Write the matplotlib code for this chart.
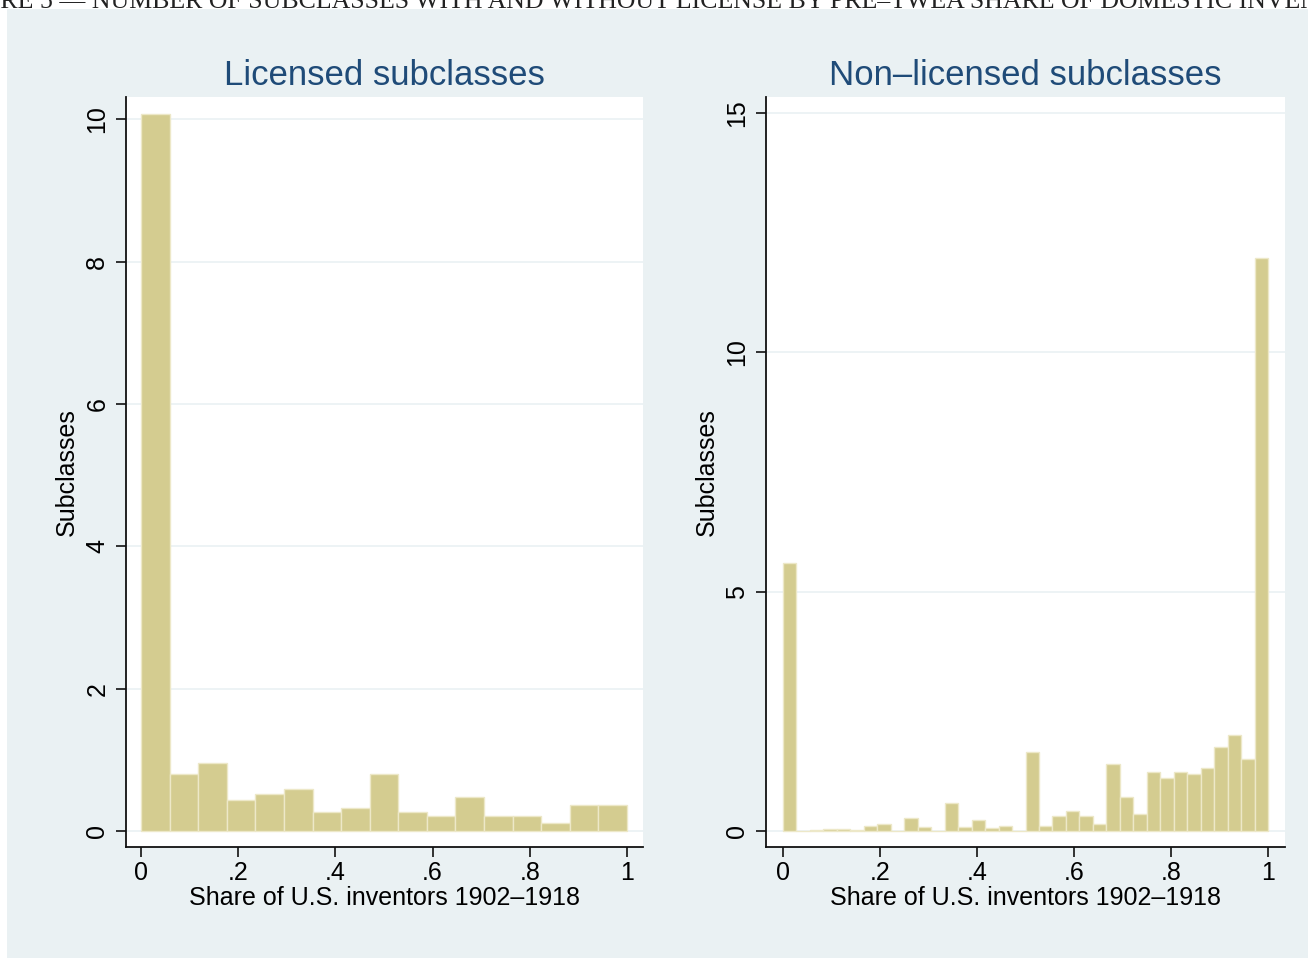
import numpy as np
import matplotlib
matplotlib.use("Agg")
import matplotlib.pyplot as plt
from matplotlib.patches import Rectangle

plt.rcParams['font.family'] = ['Liberation Sans', 'DejaVu Sans']

# Histogram densities (17 equal bins on [0, 1]) for licensed subclasses
licensed_density = [10.07, 0.81, 0.96, 0.44, 0.53, 0.59, 0.27, 0.33, 0.81,
                    0.27, 0.22, 0.48, 0.22, 0.22, 0.11, 0.37, 0.37]
# Histogram densities (36 equal bins on [0, 1]) for non-licensed subclasses
nonlicensed_density = [5.60, 0.00, 0.03, 0.05, 0.05, 0.02, 0.11, 0.14, 0.00,
                       0.27, 0.08, 0.01, 0.59, 0.08, 0.24, 0.07, 0.11, 0.01,
                       1.66, 0.11, 0.31, 0.43, 0.31, 0.14, 1.40, 0.72, 0.36,
                       1.24, 1.11, 1.24, 1.20, 1.31, 1.76, 2.01, 1.50, 11.97]

panel_titles = ["Licensed subclasses", "Non\u2013licensed subclasses"]
x_label = "Share of U.S. inventors 1902\u20131918"
y_label = "Subclasses"
x_ticks = [0, 0.2, 0.4, 0.6, 0.8, 1.0]
x_ticklabels = ["0", ".2", ".4", ".6", ".8", "1"]
left_yticks = [0, 2, 4, 6, 8, 10]
right_yticks = [0, 5, 10, 15]
caption = ("FIGURE 5 \u2014 NUMBER OF SUBCLASSES WITH AND WITHOUT LICENSE BY "
           "PRE\u2013TWEA SHARE OF DOMESTIC INVENTORS")

BG = "#EAF1F3"
BAR = "#D4CC90"
BAR_EDGE = "#EDE8C8"
TITLE = "#1F4B78"

W, H = 1308, 958
fig = plt.figure(figsize=(W / 100, H / 100), dpi=100, facecolor="white")

# light graph region behind both panels
fig.patches.append(Rectangle((7 / W, 0), 1 - 7 / W, 1 - 9 / H,
                             transform=fig.transFigure, facecolor=BG,
                             edgecolor="none", zorder=-10))

# running caption, clipped at the top edge
CAP_SIZE = 18.6
cap = fig.text(0, 1 - 8 / H, caption, family="Liberation Serif",
               fontsize=CAP_SIZE, ha="left", va="baseline", color="#222222")
r = fig.canvas.get_renderer()
probe = fig.text(0, 0, "FIGU", family="Liberation Serif", fontsize=CAP_SIZE)
shift = probe.get_window_extent(r).width
probe.remove()
cap.set_x(-shift / W)


def hist_panel(rect, heights, ylim, xlim, yticks, title):
    ax = fig.add_axes(rect)
    ax.set_facecolor("white")
    n = len(heights)
    edges = np.linspace(0, 1, n + 1)
    ax.bar(edges[:-1], heights, width=1 / n, align="edge", color=BAR,
           edgecolor=BAR_EDGE, linewidth=1.0, zorder=3)
    ax.set_xlim(*xlim)
    ax.set_ylim(*ylim)
    ax.set_yticks(yticks)
    ax.set_yticklabels([str(t) for t in yticks], rotation=90, va="center")
    ax.set_xticks(x_ticks)
    ax.set_xticklabels(x_ticklabels)
    ax.yaxis.grid(True, color=BG, linewidth=1.2, zorder=0)
    ax.set_axisbelow(True)
    for s in ("top", "right"):
        ax.spines[s].set_visible(False)
    for s in ("left", "bottom"):
        ax.spines[s].set_linewidth(1.3)
        ax.spines[s].set_color("#111111")
    ax.tick_params(axis="both", direction="out", length=7, width=1.2,
                   labelsize=18, color="#111111", pad=5)
    ax.tick_params(axis="x", pad=3)
    ax.set_xlabel(x_label, fontsize=18, labelpad=1)
    ax.set_ylabel(y_label, fontsize=18, labelpad=5)
    ax.set_title(title, fontsize=25, color=TITLE, pad=9)
    return ax


ax1 = hist_panel([126 / W, 1 - 847 / H, (643 - 126) / W, 750 / H],
                 licensed_density, (-0.22, 10.31), (-0.031, 1.033),
                 left_yticks, panel_titles[0])
ax2 = hist_panel([766 / W, 1 - 847 / H, (1285 - 766) / W, 750 / H],
                 nonlicensed_density, (-0.33, 15.33), (-0.035, 1.035),
                 right_yticks, panel_titles[1])

fig.savefig("out.png", dpi=100, facecolor="white")
